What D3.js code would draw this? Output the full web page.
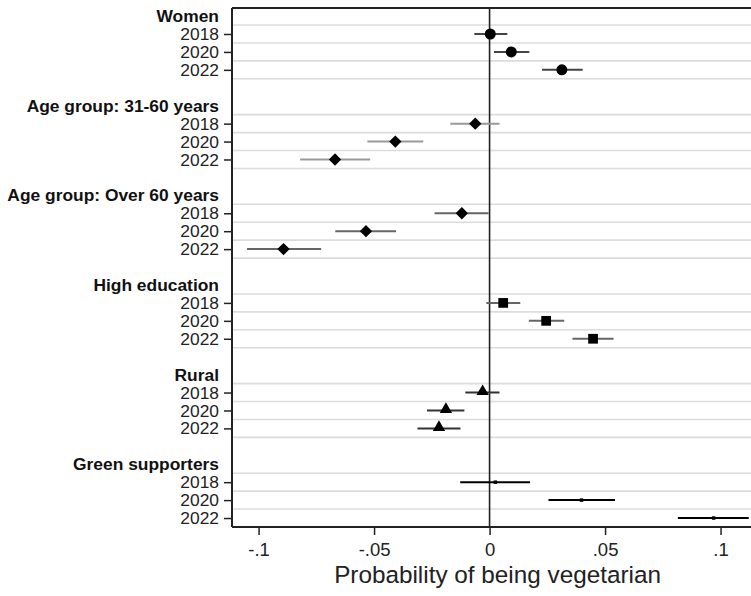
<!DOCTYPE html>
<html>
<head>
<meta charset="utf-8">
<script src="https://cdn.jsdelivr.net/npm/d3@7"></script>
<style>
  body { margin: 0; background: #fff; }
  svg { display: block; font-family: "Liberation Sans", Arial, sans-serif; }
</style>
</head>
<body>
<div id="chart"></div>
<script>
// groups of the coefficient plot, top to bottom
const groups = ["Women", "Age group: 31-60 years", "Age group: Over 60 years", "High education", "Rural", "Green supporters"];
const years = ["2018", "2020", "2022"];

// point estimates and 95% CI per group (rows: 2018, 2020, 2022)
const estimates = [
  [0.0003, 0.0094, 0.0313],
  [-0.0062, -0.0408, -0.0669],
  [-0.0120, -0.0535, -0.0892],
  [0.0059, 0.0245, 0.0448],
  [-0.0030, -0.0189, -0.0219],
  [0.0025, 0.0398, 0.0970]
];
const lower = [
  [-0.0066, 0.0019, 0.0227],
  [-0.0170, -0.0529, -0.0820],
  [-0.0238, -0.0668, -0.1050],
  [-0.0014, 0.0170, 0.0359],
  [-0.0105, -0.0271, -0.0312],
  [-0.0127, 0.0255, 0.0815]
];
const upper = [
  [0.0077, 0.0172, 0.0403],
  [0.0043, -0.0287, -0.0517],
  [-0.0004, -0.0405, -0.0729],
  [0.0133, 0.0323, 0.0537],
  [0.0043, -0.0109, -0.0126],
  [0.0175, 0.0543, 0.1122]
];

const xTicks = [-0.1, -0.05, 0, 0.05, 0.1];
const xTickLabels = ["-.1", "-.05", "0", ".05", ".1"];

const markerType = ["circle", "diamond", "diamond", "square", "triangle", "tiny"];
const ciColor = ["#444", "#999", "#666", "#666", "#333", "#000"];

let w = 751;
let h = 596;
let plotLeft = 232, plotTop = 8, plotBottom = 527;

const x = d3.scaleLinear().domain([-0.1115, 0.115]).range([plotLeft, plotLeft + 0.2265 * 2310]);
const y = d3.scaleLinear().domain([-0.45, 28.5]).range([plotTop, plotBottom]);

// flatten into rows; each group takes 5 rows: header, three years, blank
let rows = [];
groups.forEach((g, gi) => {
  years.forEach((yr, yi) => {
    rows.push({group: gi, year: yr, row: gi * 5 + 1 + yi,
      est: estimates[gi][yi], lo: lower[gi][yi], hi: upper[gi][yi]});
  });
});

let svg = d3.select("#chart").append("svg")
  .attr("width", w)
  .attr("height", h);

// light grid lines under header and year rows
let gridRows = [];
groups.forEach((g, gi) => { for (let k = 0; k < 4; k++) gridRows.push(gi * 5 + k + 0.5); });
svg.append("g")
  .selectAll("line")
  .data(gridRows)
  .join("line")
    .attr("x1", plotLeft).attr("x2", w)
    .attr("y1", d => y(d)).attr("y2", d => y(d))
    .attr("stroke", "#dcdcdc")
    .attr("stroke-width", 1.6);

// zero reference line
svg.append("line")
  .attr("x1", x(0)).attr("x2", x(0))
  .attr("y1", plotTop).attr("y2", plotBottom)
  .attr("stroke", "#222")
  .attr("stroke-width", 1.6);

// frame: top line
svg.append("line")
  .attr("x1", plotLeft).attr("x2", w).attr("y1", plotTop).attr("y2", plotTop)
  .attr("stroke", "#222").attr("stroke-width", 2);

// x axis
let xAxis = svg.append("g")
  .attr("transform", "translate(0," + plotBottom + ")")
  .call(d3.axisBottom(x).tickValues(xTicks).tickFormat((d, i) => xTickLabels[i]).tickSize(8).tickSizeOuter(0));
xAxis.select(".domain").attr("stroke", "#222").attr("stroke-width", 2)
  .attr("d", "M" + plotLeft + ",0H" + w);
xAxis.selectAll(".tick line").attr("stroke", "#222").attr("stroke-width", 1.5);
xAxis.selectAll(".tick text")
  .attr("font-size", 18.5)
  .attr("fill", "#222")
  .attr("font-family", "Liberation Sans, Arial, sans-serif")
  .attr("y", 16);

// y axis for year rows
let yAxis = svg.append("g")
  .attr("transform", "translate(" + plotLeft + ",0)")
  .call(d3.axisLeft(y).tickValues(rows.map(d => d.row)).tickFormat((d, i) => rows[i].year).tickSize(8).tickSizeOuter(0));
yAxis.select(".domain").attr("stroke", "#222").attr("stroke-width", 2)
  .attr("d", "M0," + plotTop + "V" + plotBottom);
yAxis.selectAll(".tick line").attr("stroke", "#222").attr("stroke-width", 1.5);
yAxis.selectAll(".tick text")
  .attr("font-size", 17.4)
  .attr("fill", "#222")
  .attr("font-family", "Liberation Sans, Arial, sans-serif")
  .attr("x", -13);

// bold group headers
svg.append("g")
  .selectAll("text")
  .data(groups)
  .join("text")
    .attr("x", plotLeft - 13)
    .attr("y", (d, i) => y(i * 5))
    .attr("dy", "0.35em")
    .attr("text-anchor", "end")
    .attr("font-size", 17.4)
    .attr("font-weight", "bold")
    .attr("fill", "#111")
    .text(d => d);

// confidence intervals
svg.append("g")
  .selectAll("line")
  .data(rows)
  .join("line")
    .attr("x1", d => x(d.lo)).attr("x2", d => x(d.hi))
    .attr("y1", d => y(d.row)).attr("y2", d => y(d.row))
    .attr("stroke", d => ciColor[d.group])
    .attr("stroke-width", 2);

// point markers
const symbolFor = {
  circle: d3.symbol().type(d3.symbolCircle).size(95),
  diamond: d3.symbol().type(d3.symbolSquare).size(76),
  square: d3.symbol().type(d3.symbolSquare).size(95),
  triangle: d3.symbol().type(d3.symbolTriangle).size(66),
  tiny: d3.symbol().type(d3.symbolSquare).size(12)
};
svg.append("g")
  .selectAll("path")
  .data(rows)
  .join("path")
    .attr("d", d => symbolFor[markerType[d.group]]())
    .attr("transform", d => {
      let t = "translate(" + x(d.est) + "," + y(d.row) + ")";
      if (markerType[d.group] == "diamond") t += " rotate(45)";
      if (markerType[d.group] == "triangle") t += " translate(0,-1)";
      return t;
    })
    .attr("fill", "#000");

// axis title
svg.append("text")
  .attr("x", x(0) + 8)
  .attr("y", 583)
  .attr("text-anchor", "middle")
  .attr("font-size", 24.3)
  .attr("fill", "#222")
  .text("Probability of being vegetarian");
</script>
</body>
</html>
